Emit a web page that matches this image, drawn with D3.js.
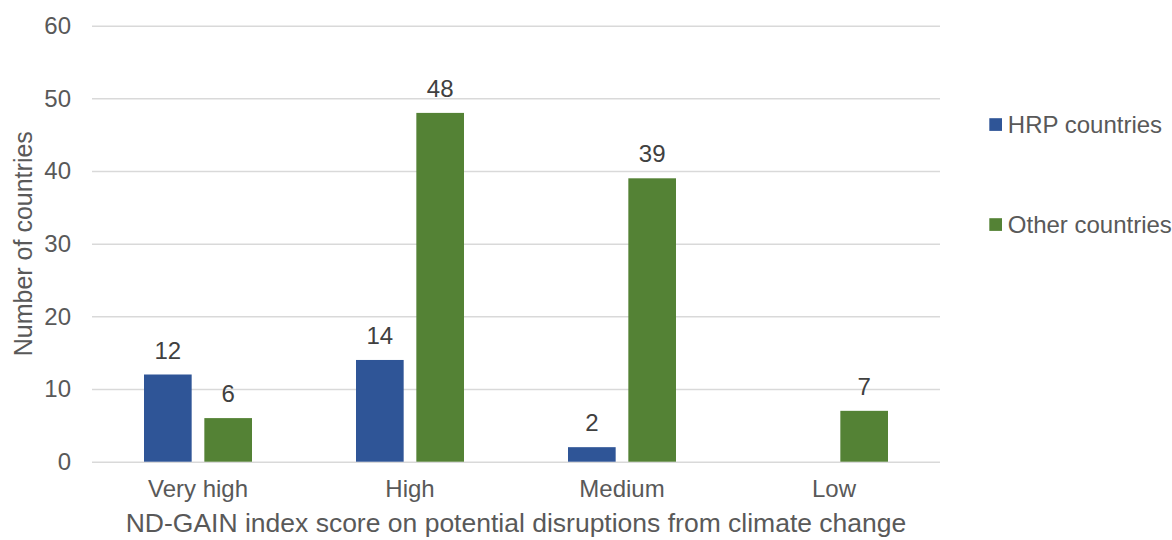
<!DOCTYPE html>
<html>
<head>
<meta charset="utf-8">
<script src="https://cdn.jsdelivr.net/npm/d3@7"></script>
<style>
  body { margin: 0; background: #fff; }
  text { font-family: "Liberation Sans", Arial, sans-serif; }
</style>
</head>
<body>
<div id="chart"></div>
<script>
// chart data
const categories = ["Very high", "High", "Medium", "Low"];
const seriesNames = ["HRP countries", "Other countries"];
const hrpValues = [12, 14, 2, null];
const otherValues = [6, 48, 39, 7];
const yTicks = [0, 10, 20, 30, 40, 50, 60];
const colors = ["#2F5597", "#548235"];

const width = 1172, height = 540;
const margin = {top: 25.7, right: 232, bottom: 78.3, left: 92};

const svg = d3.select('#chart')
  .append('svg')
  .attr('width', width)
  .attr('height', height);

// scales
const x = d3.scaleBand()
  .domain(categories)
  .range([margin.left, width - margin.right])
  .padding(0);

const groupWidth = 108;
const xInner = d3.scaleBand()
  .domain(seriesNames)
  .range([0, groupWidth])
  .paddingInner(0.21)
  .paddingOuter(0);

const y = d3.scaleLinear()
  .domain([0, 60])
  .range([height - margin.bottom, margin.top]);

// gridlines + y labels
const yAxis = d3.axisLeft(y)
  .tickValues(yTicks)
  .tickSize(-(width - margin.right - margin.left))
  .tickPadding(21);

const gy = svg.append('g')
  .attr('transform', `translate(${margin.left},0)`)
  .call(yAxis);
gy.select('.domain').remove();
gy.selectAll('.tick line')
  .attr('stroke', '#d9d9d9')
  .attr('stroke-width', 1.5);
gy.selectAll('.tick text')
  .attr('fill', '#595959')
  .style('font-size', '24px')
  .style('font-family', '"Liberation Sans", Arial, sans-serif');

// x category labels
const xAxis = d3.axisBottom(x).tickSize(0).tickPadding(0);
const gx = svg.append('g')
  .attr('transform', `translate(0,${y(0)})`)
  .call(xAxis);
gx.select('.domain').remove();
gx.selectAll('.tick text')
  .attr('dy', null)
  .attr('y', 35)
  .attr('fill', '#595959')
  .style('font-size', '24px')
  .style('font-family', '"Liberation Sans", Arial, sans-serif');

// bars
const rows = categories.map((c, i) => ({cat: c, values: [hrpValues[i], otherValues[i]]}));

const groups = svg.selectAll('.group')
  .data(rows)
  .enter()
  .append('g')
    .attr('class', 'group')
    .attr('transform', d => `translate(${x(d.cat) + x.bandwidth() / 2 - groupWidth / 2},0)`);

groups.selectAll('rect')
  .data(d => d.values.map((v, j) => ({name: seriesNames[j], value: v, j: j})).filter(e => e.value != null))
  .enter()
  .append('rect')
    .attr('x', d => xInner(d.name))
    .attr('y', d => y(d.value))
    .attr('width', xInner.bandwidth())
    .attr('height', d => y(0) - y(d.value))
    .attr('fill', d => colors[d.j]);

groups.selectAll('.label')
  .data(d => d.values.map((v, j) => ({name: seriesNames[j], value: v})).filter(e => e.value != null))
  .enter()
  .append('text')
    .attr('class', 'label')
    .attr('x', d => xInner(d.name) + xInner.bandwidth() / 2)
    .attr('y', d => y(d.value) - 16)
    .attr('text-anchor', 'middle')
    .attr('fill', '#404040')
    .style('font-size', '24px')
    .text(d => d.value);

// axis titles
svg.append('text')
  .attr('x', x.range()[0] + (x.range()[1] - x.range()[0]) / 2)
  .attr('y', 532)
  .attr('text-anchor', 'middle')
  .attr('fill', '#595959')
  .style('font-size', '26.5px')
  .text('ND-GAIN index score on potential disruptions from climate change');

svg.append('text')
  .attr('transform', `translate(32,${y(30)}) rotate(-90)`)
  .attr('text-anchor', 'middle')
  .attr('fill', '#595959')
  .style('font-size', '25px')
  .text('Number of countries');

// legend
const legend = svg.selectAll('.legend')
  .data(seriesNames)
  .enter()
  .append('g')
    .attr('class', 'legend')
    .attr('transform', (d, i) => `translate(989.3,${124.5 + i * 100})`);

legend.append('rect')
  .attr('x', 0)
  .attr('y', -6.3)
  .attr('width', 12.7)
  .attr('height', 12.7)
  .attr('fill', (d, i) => colors[i]);

legend.append('text')
  .attr('x', 18.5)
  .attr('y', 0)
  .attr('dy', '0.35em')
  .attr('fill', '#595959')
  .style('font-size', '24px')
  .text(d => d);
</script>
</body>
</html>
